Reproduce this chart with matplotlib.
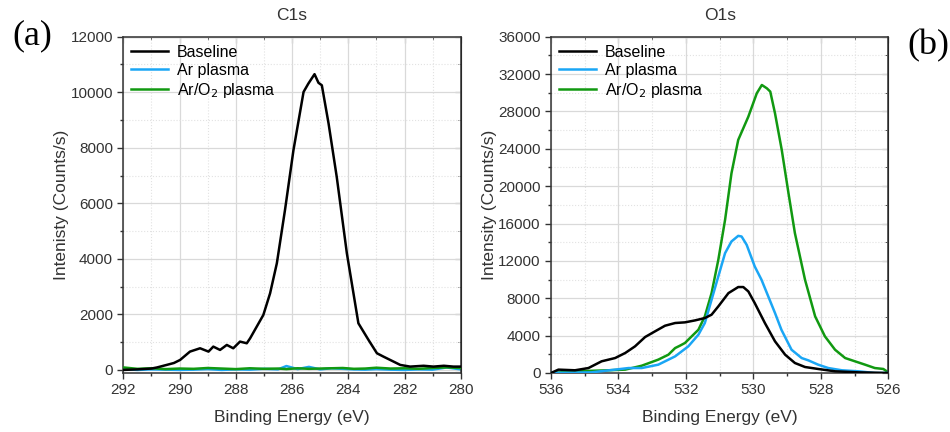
import numpy as np
import matplotlib.pyplot as plt
from matplotlib.ticker import MultipleLocator

plt.rcParams['font.family'] = ['Liberation Sans', 'DejaVu Sans']

# C1s region
c1s_base_e = [292.0, 291.5, 291.0, 290.8, 290.46, 290.2, 289.98, 289.63, 289.27, 288.97, 288.8, 288.56,
              288.32, 288.09, 287.85, 287.61, 287.49, 287.02, 286.78, 286.54, 286.25, 285.95, 285.59,
              285.42, 285.2, 285.06, 284.94, 284.7, 284.41, 284.05, 283.64, 283.28, 282.98, 282.75,
              282.39, 282.15, 281.8, 281.32, 280.97, 280.6, 280.26, 280.0]
c1s_base = [0, 20, 50, 90, 180, 250, 360, 660, 780, 660, 840, 720,
            900, 780, 1020, 960, 1140, 1980, 2760, 3840, 5760, 7910, 10010,
            10310, 10650, 10340, 10250, 8870, 6950, 4200, 1680, 1080, 600, 480,
            300, 180, 120, 150, 120, 150, 120, 120]

c1s_e = [292.0, 291.5, 291.0, 290.5, 290.0, 289.5, 289.0, 288.5, 288.0, 287.5, 287.0, 286.5, 286.2,
         285.8, 285.4, 285.0, 284.6, 284.2, 283.8, 283.4, 283.0, 282.5, 282.0, 281.5, 281.0, 280.5, 280.0]
c1s_ar = [30, 0, 20, 10, 0, 10, 30, 0, 20, 10, 40, 20, 140, 30, 110, 20, 60, 40, 20, 10, 30, 10, 0,
          20, 10, 90, 20]
c1s_aro2 = [90, 40, 60, 30, 50, 40, 70, 50, 30, 60, 40, 50, 30, 60, 40, 50, 60, 70, 40, 50, 80, 50,
            60, 40, 70, 90, 70]

# O1s region
o1s_base_e = [536.0, 535.78, 535.29, 534.89, 534.5, 534.1, 533.8, 533.51, 533.21, 532.92, 532.62,
              532.32, 532.03, 531.73, 531.44, 531.24, 531.04, 530.74, 530.45, 530.3, 530.15, 529.96,
              529.66, 529.36, 529.06, 528.77, 528.47, 528.08, 527.58, 526.89, 526.0]
o1s_base = [0, 360, 290, 530, 1250, 1600, 2140, 2850, 3850, 4450, 5060,
            5350, 5420, 5630, 5880, 6240, 7130, 8550, 9200, 9200, 8730, 7480,
            5350, 3390, 1960, 1070, 640, 430, 180, 70, 0]

o1s_ar_e = [536.0, 534.8, 534.1, 533.7, 533.31, 532.82, 532.32, 531.93, 531.63, 531.44, 531.24,
            531.04, 530.84, 530.65, 530.45, 530.35, 530.2, 529.96, 529.76, 529.56, 529.36, 529.17,
            528.87, 528.57, 528.37, 528.08, 527.78, 527.38, 526.89, 526.4, 526.0]
o1s_ar = [0, 70, 360, 530, 530, 890, 1780, 2850, 4100, 5350, 7840,
          10340, 12830, 14080, 14680, 14610, 13720, 11400, 9980, 8200, 6420, 4630,
          2490, 1600, 1350, 890, 530, 290, 180, 0, 0]

o1s_aro2_e = [536.0, 535.29, 534.3, 533.8, 533.31, 532.82, 532.52, 532.32, 532.18, 532.03, 531.83,
              531.63, 531.44, 531.24, 531.04, 530.84, 530.65, 530.45, 530.15, 529.9, 529.75, 529.6,
              529.5, 529.36, 529.16, 528.96, 528.77, 528.47, 528.17, 527.88, 527.58, 527.28, 526.99,
              526.69, 526.4, 526.15, 526.0]
o1s_aro2 = [0, 180, 290, 360, 780, 1430, 1960, 2670, 2920, 3210, 3920,
            4630, 6060, 8550, 12120, 16390, 21380, 24950, 27440, 29940, 30830, 30470,
            30120, 27800, 23880, 19240, 14970, 9980, 6060, 3920, 2490, 1600, 1250,
            890, 530, 430, 70]

BLACK = '#000000'
BLUE = '#1aa6f5'
GREEN = '#119911'
TXT = '#333333'


def style_axes(ax, xlim, xmaj, ylim, ymaj, ymin):
    ax.set_xlim(xlim)
    ax.set_ylim(ylim)
    ax.xaxis.set_major_locator(MultipleLocator(xmaj))
    ax.xaxis.set_minor_locator(MultipleLocator(xmaj / 2))
    ax.yaxis.set_major_locator(MultipleLocator(ymaj))
    ax.yaxis.set_minor_locator(MultipleLocator(ymin))
    ax.grid(which='major', color='#d9d9d9', lw=0.9)
    ax.grid(which='minor', color='#e2e2e2', lw=0.8, ls=':')
    ax.set_axisbelow(True)
    ax.tick_params(which='both', direction='out', labelsize=11, width=1.0, colors=TXT,
                   labelcolor=TXT)
    ax.tick_params(which='major', length=4)
    ax.tick_params(which='minor', length=2.5)
    for s in ax.spines.values():
        s.set_linewidth(1.1)
        s.set_color(TXT)
    # inward ticks on top and right
    top = ax.secondary_xaxis('top')
    top.xaxis.set_major_locator(MultipleLocator(xmaj))
    top.xaxis.set_minor_locator(MultipleLocator(xmaj / 2))
    top.tick_params(which='both', direction='in', labeltop=False, colors=TXT)
    top.tick_params(which='major', length=4)
    top.tick_params(which='minor', length=2.5)
    right = ax.secondary_yaxis('right')
    right.yaxis.set_major_locator(MultipleLocator(ymaj))
    right.yaxis.set_minor_locator(MultipleLocator(ymin))
    right.tick_params(which='both', direction='in', labelright=False, colors=TXT)
    right.tick_params(which='major', length=4)
    right.tick_params(which='minor', length=2.5)
    ax.set_xlabel('Binding Energy (eV)', fontsize=12.5, color=TXT, labelpad=9)
    ax.legend(loc='upper left', frameon=False, fontsize=11.5, handlelength=2.3, handletextpad=0.55,
              labelspacing=0.2, borderaxespad=0.0, borderpad=0.5)


fig = plt.figure(figsize=(9.5, 4.32), dpi=100)
ax1 = fig.add_axes([0.1298, 0.1366, 0.3552, 0.7785])
ax2 = fig.add_axes([0.58, 0.1366, 0.3551, 0.7785])

ax1.plot(c1s_base_e, c1s_base, color=BLACK, lw=1.8, label='Baseline', zorder=4)
ax1.plot(c1s_e, c1s_ar, color=BLUE, lw=1.8, label='Ar plasma', zorder=2)
ax1.plot(c1s_e, c1s_aro2, color=GREEN, lw=1.8, label='Ar/O$_2$ plasma', zorder=3)
style_axes(ax1, (292, 280), 2, (-110, 12000), 2000, 1000)
ax1.set_ylabel('Intenisty (Counts/s)', fontsize=12.5, color=TXT, labelpad=1)
ax1.set_title('C1s', fontsize=12.5, color=TXT, pad=12)

ax2.plot(o1s_base_e, o1s_base, color=BLACK, lw=1.8, label='Baseline', zorder=4)
ax2.plot(o1s_ar_e, o1s_ar, color=BLUE, lw=1.8, label='Ar plasma', zorder=3)
ax2.plot(o1s_aro2_e, o1s_aro2, color=GREEN, lw=1.8, label='Ar/O$_2$ plasma', zorder=2)
style_axes(ax2, (536, 526), 2, (0, 36000), 4000, 2000)
ax2.set_ylabel('Intensity (Counts/s)', fontsize=12.5, color=TXT, labelpad=1)
ax2.set_title('O1s', fontsize=12.5, color=TXT, pad=12)

fig.text(0.034, 0.918, '(a)', fontsize=26, family='Liberation Serif', ha='center', va='center')
fig.text(0.977, 0.893, '(b)', fontsize=26, family='Liberation Serif', ha='center', va='center')

fig.savefig('out.png', dpi=100)
